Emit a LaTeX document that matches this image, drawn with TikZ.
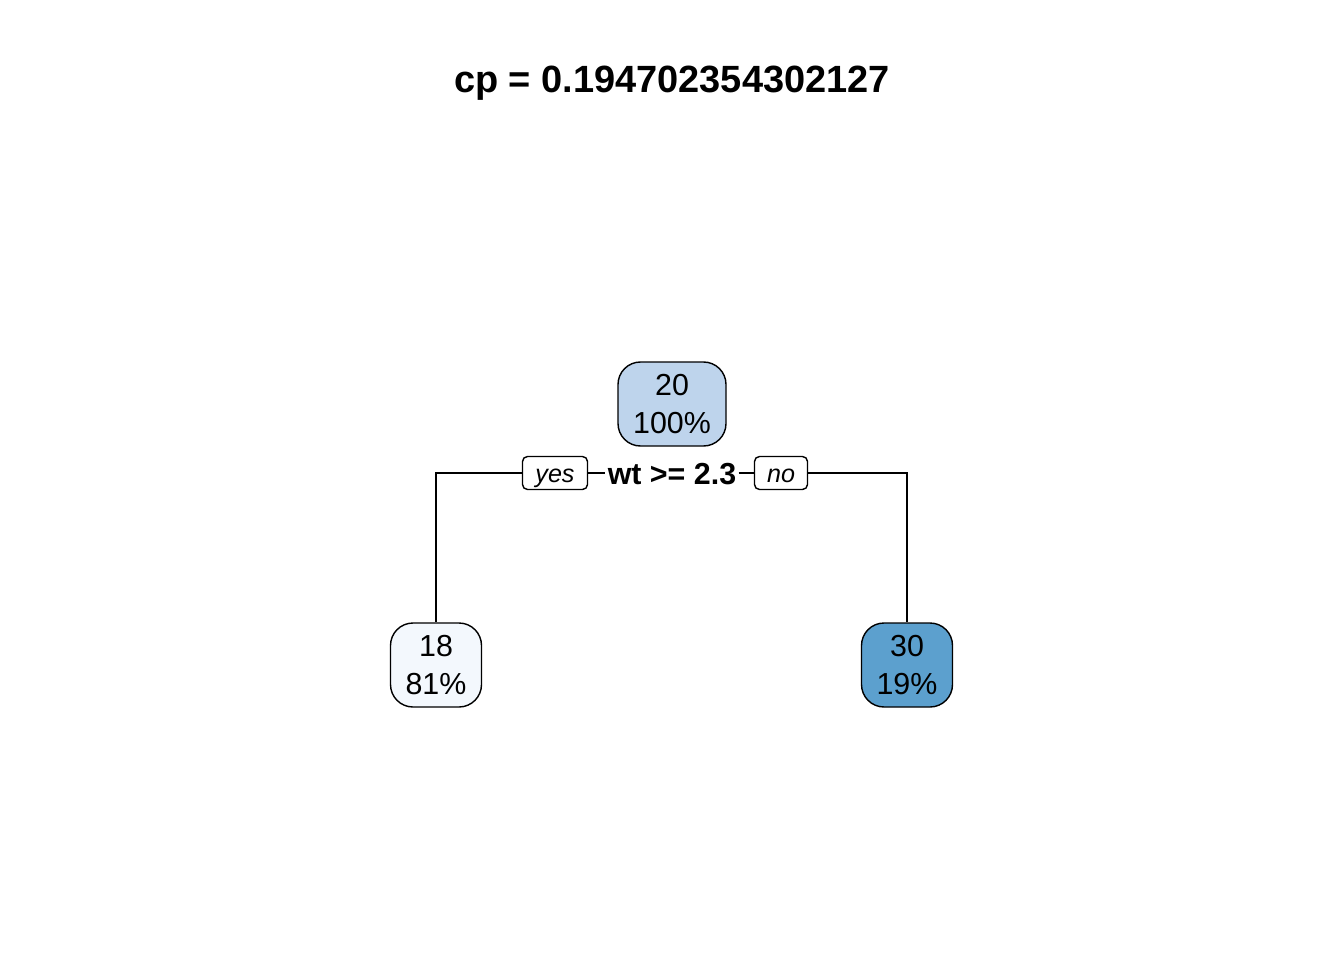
\documentclass[tikz,border=0pt]{standalone}
\usepackage{fontspec}
\setmainfont{Liberation Sans}
\usetikzlibrary{positioning}

\definecolor{rootblue}{RGB}{190,212,236}
\definecolor{paleblue}{RGB}{243,248,253}
\definecolor{deepblue}{RGB}{92,160,206}

\begin{document}
\begin{tikzpicture}[%
        line width = 0.8pt,
        treenode/.style = {
            draw, rounded corners = 0.45cm, align = center,
            minimum height = 1.68cm, inner sep = 0pt,
            font = \fontsize{17.3}{22}\selectfont
        },
        answer/.style = {
            draw, rounded corners = 0.1cm, fill = white,
            minimum height = 0.66cm, inner sep = 0pt,
            text height = 0.38cm, text depth = 0cm,
            font = \fontsize{14.3}{16}\selectfont\itshape
        }
    ]

        % Fix the page to the reference size.
        \useasboundingbox (0.0, 0.0) rectangle (26.88, -19.2);

        % Title of the plot.
        \node (title) at (13.44, -1.66) {\fontsize{21.6}{26}\selectfont\bfseries cp = 0.194702354302127};

        % The root and the two leaves.
        \node[treenode, fill = rootblue, minimum width = 2.16cm] (root) at (13.44, -8.08) {20\\100\%};
        \node[treenode, fill = paleblue, minimum width = 1.82cm] (left) at (8.72, -13.3) {18\\81\%};
        \node[treenode, fill = deepblue, minimum width = 1.82cm] (right) at (18.14, -13.3) {30\\19\%};

        % Split label with its yes/no boxes.
        \node[font = \fontsize{17.3}{20}\selectfont\bfseries, inner sep = 1pt] (split) at (13.44, -9.48) {wt >= 2.3};
        \node[answer, minimum width = 1.3cm] (yes) at (11.1, -9.46) {yes};
        \node[answer, minimum width = 1.06cm] (no) at (15.62, -9.46) {no};

        % Branches down to the leaves.
        \draw (yes.east) -- (split.west |- yes.east);
        \draw (split.east |- no.west) -- (no.west);
        \draw (yes.west) -| (left.north);
        \draw (no.east) -| (right.north);
    \end{tikzpicture}
\end{document}
